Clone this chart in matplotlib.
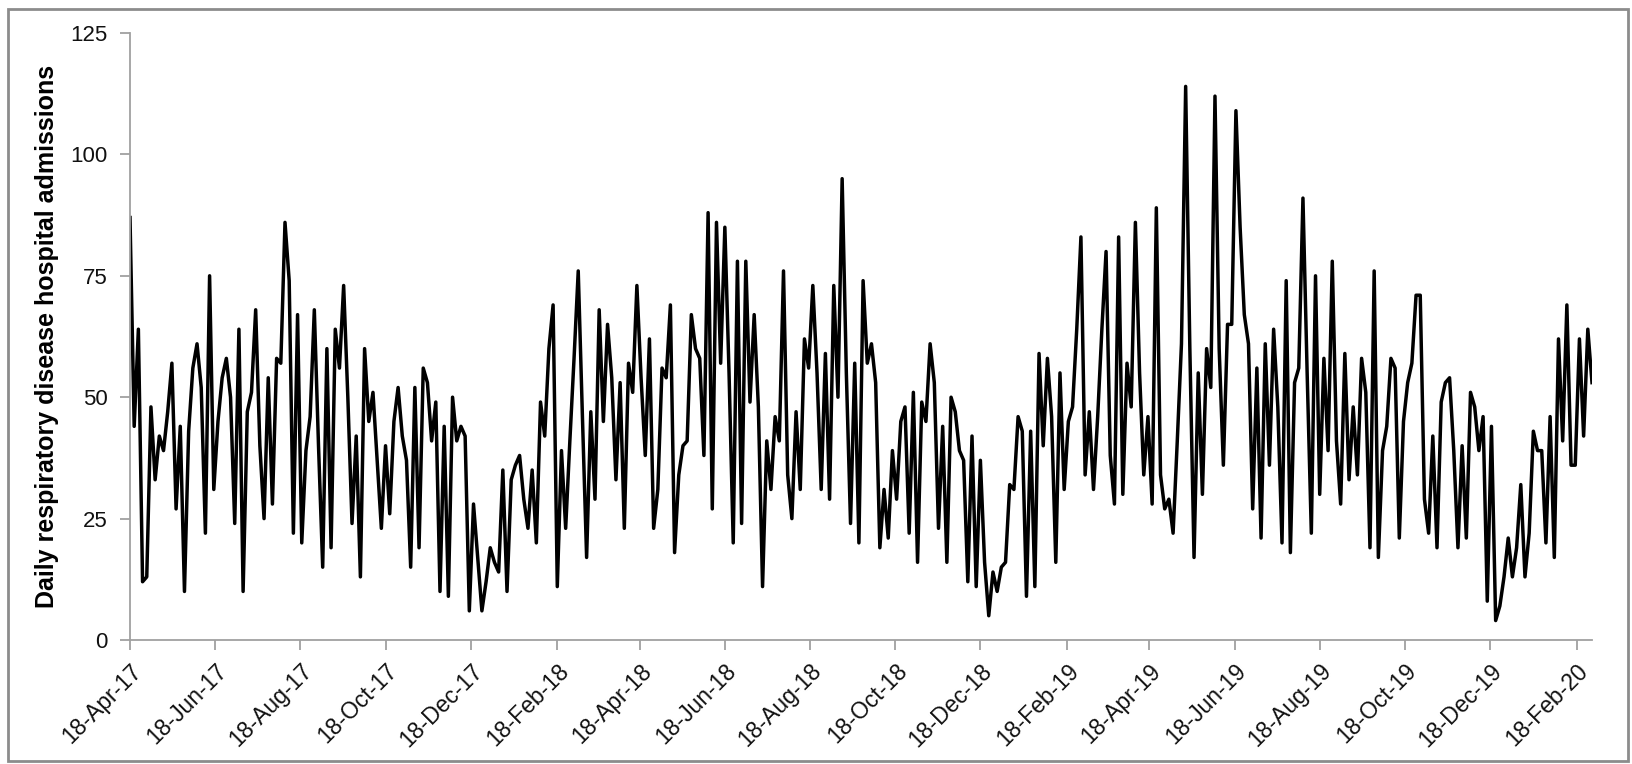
import numpy as np
import pandas as pd
import matplotlib
matplotlib.use('Agg')
import matplotlib.pyplot as plt
import matplotlib.dates as mdates
from matplotlib.patches import Rectangle

plt.rcParams['font.family'] = ['Liberation Sans', 'DejaVu Sans']

# admissions, one reading every 3 days from 18-Apr-2017
admissions = [
    87, 44, 64, 12, 13, 48, 33, 42, 39, 47,
    57, 27, 44, 10, 43, 56, 61, 52, 22, 75,
    31, 45, 54, 58, 50, 24, 64, 10, 47, 51,
    68, 40, 25, 54, 28, 58, 57, 86, 74, 22,
    67, 20, 39, 46, 68, 40, 15, 60, 19, 64,
    56, 73, 50, 24, 42, 13, 60, 45, 51, 37,
    23, 40, 26, 45, 52, 42, 37, 15, 52, 19,
    56, 53, 41, 49, 10, 44, 9, 50, 41, 44,
    42, 6, 28, 17, 6, 12, 19, 16, 14, 35,
    10, 33, 36, 38, 29, 23, 35, 20, 49, 42,
    60, 69, 11, 39, 23, 41, 58, 76, 46, 17,
    47, 29, 68, 45, 65, 54, 33, 53, 23, 57,
    51, 73, 54, 38, 62, 23, 31, 56, 54, 69,
    18, 34, 40, 41, 67, 60, 58,
    38, 88, 27, 86, 57, 85, 55, 20, 78, 24, 78, 49, 67,
    48, 11, 41, 31, 46, 41, 76, 34, 25, 47,
    31, 62, 56, 73, 55, 31, 59, 29, 73, 50,
    95, 55, 24, 57, 20, 74, 57, 61, 53, 19,
    31, 21, 39, 29, 45, 48, 22, 51, 16, 49,
    45, 61, 53, 23, 44, 16, 50, 47, 39, 37,
    12, 42, 11, 37, 16, 5, 14, 10, 15, 16,
    32, 31, 46, 43, 9, 43, 11, 59, 40, 58,
    46, 16, 55, 31, 45, 48, 64, 83, 34, 47,
    31, 46, 64, 80, 38, 28, 83, 30, 57, 48,
    86, 55, 34, 46, 28, 89, 34, 27, 29, 22,
    41, 61, 114, 60, 17, 55, 30, 60, 52, 112,
    60, 36, 65, 65, 109, 85, 67, 61, 27, 56,
    21, 61, 36, 64, 48, 20, 74, 18, 53, 56,
    91, 55, 22, 75, 30, 58, 39, 78, 41, 28,
    59, 33, 48, 34, 58, 51, 19, 76, 17, 39,
    44, 58, 56, 21, 45, 53, 57, 71, 71, 29,
    22, 42, 19, 49, 53, 54, 39, 19, 40, 21,
    51, 48, 39, 46, 8, 44, 4, 7, 13, 21,
    13, 19, 32, 13, 22, 43, 39, 39, 20, 46,
    17, 62, 41, 69, 36, 36, 62, 42, 64, 53,
]
dates = pd.date_range('2017-04-18', periods=len(admissions), freq='3D')
tick_dates = pd.date_range('2017-04-18', '2020-02-18', freq=pd.DateOffset(months=2))
y_ticks = [0, 25, 50, 75, 100, 125]

W, H = 1632, 764
fig = plt.figure(figsize=(W / 100, H / 100), dpi=100)
ax = fig.add_axes([130 / W, (H - 640) / H, (1592 - 130) / W, (640 - 33) / H])

ax.plot(dates, admissions, color='black', lw=2.5, solid_joinstyle='round')

ax.set_xlim(dates[0], dates[-1])
ax.set_ylim(0, 125)
ax.set_yticks(y_ticks)
ax.set_xticks(tick_dates)
ax.xaxis.set_major_formatter(mdates.DateFormatter('%d-%b-%y'))
plt.setp(ax.get_xticklabels(), rotation=45, ha='right', va='top', rotation_mode='anchor')

for s in ['top', 'right']:
    ax.spines[s].set_visible(False)
for s in ['left', 'bottom']:
    ax.spines[s].set_color('#a0a0a0')
    ax.spines[s].set_linewidth(1.3)
ax.tick_params(axis='both', color='#a0a0a0', width=1.3, length=7, colors='#a0a0a0')
ax.tick_params(axis='both', labelcolor='#111111')
ax.tick_params(axis='x', pad=7, labelsize=16.5)
ax.tick_params(axis='y', pad=9, labelsize=16)

ax.set_ylabel('Daily respiratory disease hospital admissions', fontsize=18, fontweight='bold', labelpad=8)

fig.patches.append(Rectangle((8 / W, 3 / H), (1628 - 8) / W, (755 - 3) / H, transform=fig.transFigure,
                             fill=False, edgecolor='#8c8c8c', lw=2))

fig.savefig('out.png', dpi=100)
